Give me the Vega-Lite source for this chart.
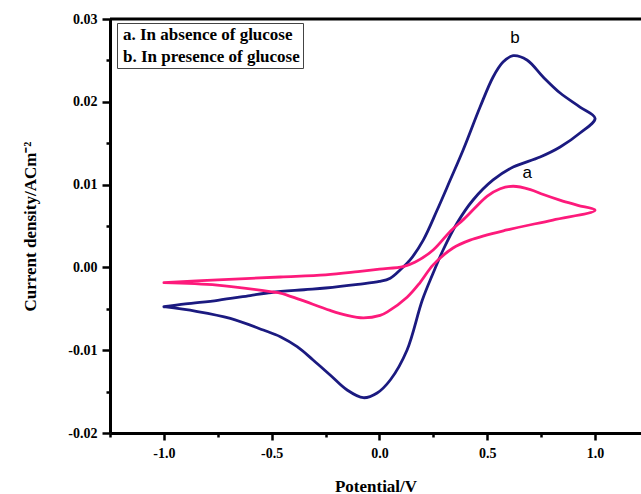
{
  "$schema": "https://vega.github.io/schema/vega-lite/v6.json",
  "width": 531,
  "height": 414,
  "autosize": {"type": "none"},
  "padding": {"left": 110, "top": 19, "right": 0, "bottom": 61},
  "background": "white",
  "config": {"view": {"stroke": null}},
  "datasets": {
    "cv": [
      {"series": "b. In presence of glucose", "idx": 1, "v": -1.0, "i": -0.00475},
      {"series": "b. In presence of glucose", "idx": 2, "v": -0.9, "i": -0.0044},
      {"series": "b. In presence of glucose", "idx": 3, "v": -0.75, "i": -0.00397},
      {"series": "b. In presence of glucose", "idx": 4, "v": -0.6, "i": -0.0034},
      {"series": "b. In presence of glucose", "idx": 5, "v": -0.5, "i": -0.00303},
      {"series": "b. In presence of glucose", "idx": 6, "v": -0.35, "i": -0.0027},
      {"series": "b. In presence of glucose", "idx": 7, "v": -0.25, "i": -0.00249},
      {"series": "b. In presence of glucose", "idx": 8, "v": -0.1, "i": -0.00205},
      {"series": "b. In presence of glucose", "idx": 9, "v": 0.0, "i": -0.0017},
      {"series": "b. In presence of glucose", "idx": 10, "v": 0.05, "i": -0.0013},
      {"series": "b. In presence of glucose", "idx": 11, "v": 0.1, "i": -0.0002},
      {"series": "b. In presence of glucose", "idx": 12, "v": 0.142, "i": 0.0009},
      {"series": "b. In presence of glucose", "idx": 13, "v": 0.203, "i": 0.0033},
      {"series": "b. In presence of glucose", "idx": 14, "v": 0.267, "i": 0.0069},
      {"series": "b. In presence of glucose", "idx": 15, "v": 0.328, "i": 0.01055},
      {"series": "b. In presence of glucose", "idx": 16, "v": 0.388, "i": 0.01418},
      {"series": "b. In presence of glucose", "idx": 17, "v": 0.467, "i": 0.0194},
      {"series": "b. In presence of glucose", "idx": 18, "v": 0.527, "i": 0.023},
      {"series": "b. In presence of glucose", "idx": 19, "v": 0.573, "i": 0.0248},
      {"series": "b. In presence of glucose", "idx": 20, "v": 0.62, "i": 0.02557},
      {"series": "b. In presence of glucose", "idx": 21, "v": 0.684, "i": 0.02505},
      {"series": "b. In presence of glucose", "idx": 22, "v": 0.759, "i": 0.023},
      {"series": "b. In presence of glucose", "idx": 23, "v": 0.838, "i": 0.02106},
      {"series": "b. In presence of glucose", "idx": 24, "v": 0.93, "i": 0.01937},
      {"series": "b. In presence of glucose", "idx": 25, "v": 1.0, "i": 0.018},
      {"series": "b. In presence of glucose", "idx": 26, "v": 0.93, "i": 0.01623},
      {"series": "b. In presence of glucose", "idx": 27, "v": 0.838, "i": 0.01454},
      {"series": "b. In presence of glucose", "idx": 28, "v": 0.745, "i": 0.01333},
      {"series": "b. In presence of glucose", "idx": 29, "v": 0.62, "i": 0.01212},
      {"series": "b. In presence of glucose", "idx": 30, "v": 0.527, "i": 0.01056},
      {"series": "b. In presence of glucose", "idx": 31, "v": 0.434, "i": 0.00814},
      {"series": "b. In presence of glucose", "idx": 32, "v": 0.36, "i": 0.00536},
      {"series": "b. In presence of glucose", "idx": 33, "v": 0.295, "i": 0.0021},
      {"series": "b. In presence of glucose", "idx": 34, "v": 0.249, "i": -0.00068},
      {"series": "b. In presence of glucose", "idx": 35, "v": 0.198, "i": -0.004},
      {"series": "b. In presence of glucose", "idx": 36, "v": 0.128, "i": -0.00997},
      {"series": "b. In presence of glucose", "idx": 37, "v": 0.05, "i": -0.0136},
      {"series": "b. In presence of glucose", "idx": 38, "v": -0.011, "i": -0.01517},
      {"series": "b. In presence of glucose", "idx": 39, "v": -0.075, "i": -0.01574},
      {"series": "b. In presence of glucose", "idx": 40, "v": -0.15, "i": -0.01481},
      {"series": "b. In presence of glucose", "idx": 41, "v": -0.229, "i": -0.01299},
      {"series": "b. In presence of glucose", "idx": 42, "v": -0.308, "i": -0.01118},
      {"series": "b. In presence of glucose", "idx": 43, "v": -0.382, "i": -0.00958},
      {"series": "b. In presence of glucose", "idx": 44, "v": -0.46, "i": -0.00837},
      {"series": "b. In presence of glucose", "idx": 45, "v": -0.539, "i": -0.00756},
      {"series": "b. In presence of glucose", "idx": 46, "v": -0.692, "i": -0.00615},
      {"series": "b. In presence of glucose", "idx": 47, "v": -0.85, "i": -0.0053},
      {"series": "b. In presence of glucose", "idx": 48, "v": -1.0, "i": -0.00475},

      {"series": "a. In absence of glucose", "idx": 1, "v": -1.0, "i": -0.00185},
      {"series": "a. In absence of glucose", "idx": 2, "v": -0.75, "i": -0.0015},
      {"series": "a. In absence of glucose", "idx": 3, "v": -0.46, "i": -0.00116},
      {"series": "a. In absence of glucose", "idx": 4, "v": -0.25, "i": -0.0009},
      {"series": "a. In absence of glucose", "idx": 5, "v": -0.1, "i": -0.0005},
      {"series": "a. In absence of glucose", "idx": 6, "v": 0.0, "i": -0.0002},
      {"series": "a. In absence of glucose", "idx": 7, "v": 0.11, "i": 0.0001},
      {"series": "a. In absence of glucose", "idx": 8, "v": 0.166, "i": 0.00065},
      {"series": "a. In absence of glucose", "idx": 9, "v": 0.249, "i": 0.0021},
      {"series": "a. In absence of glucose", "idx": 10, "v": 0.33, "i": 0.0044},
      {"series": "a. In absence of glucose", "idx": 11, "v": 0.39, "i": 0.0058},
      {"series": "a. In absence of glucose", "idx": 12, "v": 0.44, "i": 0.0071},
      {"series": "a. In absence of glucose", "idx": 13, "v": 0.5, "i": 0.0086},
      {"series": "a. In absence of glucose", "idx": 14, "v": 0.56, "i": 0.0095},
      {"series": "a. In absence of glucose", "idx": 15, "v": 0.62, "i": 0.0098},
      {"series": "a. In absence of glucose", "idx": 16, "v": 0.7, "i": 0.0094},
      {"series": "a. In absence of glucose", "idx": 17, "v": 0.76, "i": 0.0088},
      {"series": "a. In absence of glucose", "idx": 18, "v": 0.84, "i": 0.0081},
      {"series": "a. In absence of glucose", "idx": 19, "v": 0.92, "i": 0.0075},
      {"series": "a. In absence of glucose", "idx": 20, "v": 1.0, "i": 0.0069},
      {"series": "a. In absence of glucose", "idx": 21, "v": 0.804, "i": 0.00572},
      {"series": "a. In absence of glucose", "idx": 22, "v": 0.591, "i": 0.00452},
      {"series": "a. In absence of glucose", "idx": 23, "v": 0.42, "i": 0.0033},
      {"series": "a. In absence of glucose", "idx": 24, "v": 0.341, "i": 0.00234},
      {"series": "a. In absence of glucose", "idx": 25, "v": 0.249, "i": 0.0003},
      {"series": "a. In absence of glucose", "idx": 26, "v": 0.189, "i": -0.0018},
      {"series": "a. In absence of glucose", "idx": 27, "v": 0.128, "i": -0.0036},
      {"series": "a. In absence of glucose", "idx": 28, "v": 0.035, "i": -0.0054},
      {"series": "a. In absence of glucose", "idx": 29, "v": 0.003, "i": -0.0058},
      {"series": "a. In absence of glucose", "idx": 30, "v": -0.075, "i": -0.0061},
      {"series": "a. In absence of glucose", "idx": 31, "v": -0.15, "i": -0.0058},
      {"series": "a. In absence of glucose", "idx": 32, "v": -0.229, "i": -0.0052},
      {"series": "a. In absence of glucose", "idx": 33, "v": -0.368, "i": -0.0039},
      {"series": "a. In absence of glucose", "idx": 34, "v": -0.46, "i": -0.0031},
      {"series": "a. In absence of glucose", "idx": 35, "v": -0.493, "i": -0.00297},
      {"series": "a. In absence of glucose", "idx": 36, "v": -0.753, "i": -0.00215},
      {"series": "a. In absence of glucose", "idx": 37, "v": -1.0, "i": -0.00185}
    ],
    "annot": [
      {"label": "b", "v": 0.629, "i": 0.0277},
      {"label": "a", "v": 0.685, "i": 0.0114}
    ],
    "frame": [{"top": 0.03}]
  },
  "layer": [
    {
      "data": {"name": "frame"},
      "mark": {"type": "rule", "color": "black", "strokeWidth": 3},
      "encoding": {"y": {"field": "top", "type": "quantitative"}}
    },
    {
      "data": {"name": "cv"},
      "mark": {"type": "line", "strokeWidth": 2.8, "strokeJoin": "round", "strokeCap": "round", "interpolate": "catmull-rom"},
      "encoding": {
        "x": {
          "field": "v", "type": "quantitative",
          "scale": {"domain": [-1.25, 1.213], "nice": false, "zero": false},
          "axis": {
            "title": "Potential/V",
            "values": [-1.25, -1, -0.75, -0.5, -0.25, 0, 0.25, 0.5, 0.75, 1],
            "labelExpr": "abs(datum.value*2 - round(datum.value*2)) < 0.001 ? replace(format(datum.value, '.1f'), '\u2212', '-') : ''",
            "tickSize": {"condition": {"test": "abs(datum.value*2 - round(datum.value*2)) < 0.001", "value": 7}, "value": 4},
            "tickWidth": 2.5, "tickColor": "black",
            "domainColor": "black", "domainWidth": 3,
            "grid": false, "labelFlush": false, "labelOverlap": false,
            "labelFont": "Liberation Serif", "labelFontWeight": "bold", "labelFontSize": 14, "labelColor": "black",
            "labelPadding": 6,
            "titleFont": "Liberation Serif", "titleFontWeight": "bold", "titleFontSize": 17, "titleColor": "black",
            "titlePadding": 18
          }
        },
        "y": {
          "field": "i", "type": "quantitative",
          "scale": {"domain": [-0.02, 0.03], "nice": false, "zero": false},
          "axis": {
            "title": "Current density/ACm\u207B\u00B2",
            "values": [-0.02, -0.015, -0.01, -0.005, 0, 0.005, 0.01, 0.015, 0.02, 0.025, 0.03],
            "labelExpr": "abs(datum.value*100 - round(datum.value*100)) < 0.001 ? replace(format(datum.value, '.2f'), '\u2212', '-') : ''",
            "tickSize": {"condition": {"test": "abs(datum.value*100 - round(datum.value*100)) < 0.001", "value": 8}, "value": 4},
            "tickWidth": 2.5, "tickColor": "black",
            "domainColor": "black", "domainWidth": 3,
            "grid": false, "labelFlush": false, "labelOverlap": false,
            "labelFont": "Liberation Serif", "labelFontWeight": "bold", "labelFontSize": 14, "labelColor": "black",
            "labelPadding": 5,
            "titleFont": "Liberation Serif", "titleFontWeight": "bold", "titleFontSize": 17, "titleColor": "black",
            "titlePadding": 28
          }
        },
        "color": {
          "field": "series", "type": "nominal",
          "scale": {"domain": ["a. In absence of glucose", "b. In presence of glucose"], "range": ["#fd1a7b", "#1b1a80"]},
          "legend": {
            "orient": "none", "legendX": 7, "legendY": 4,
            "title": null,
            "strokeColor": "#444", "padding": 3,
            "symbolSize": 0, "symbolStrokeWidth": 0, "symbolOpacity": 0,
            "symbolOffset": 0, "labelOffset": -14, "labelLimit": 400,
            "labelFont": "Liberation Serif", "labelFontWeight": "bold", "labelFontSize": 17, "labelColor": "black",
            "rowPadding": 4
          }
        },
        "order": {"field": "idx", "type": "quantitative"}
      }
    },
    {
      "data": {"name": "annot"},
      "mark": {"type": "text", "font": "Liberation Sans", "fontSize": 17, "color": "black", "baseline": "middle", "align": "center"},
      "encoding": {
        "x": {"field": "v", "type": "quantitative"},
        "y": {"field": "i", "type": "quantitative"},
        "text": {"field": "label"}
      }
    }
  ]
}
